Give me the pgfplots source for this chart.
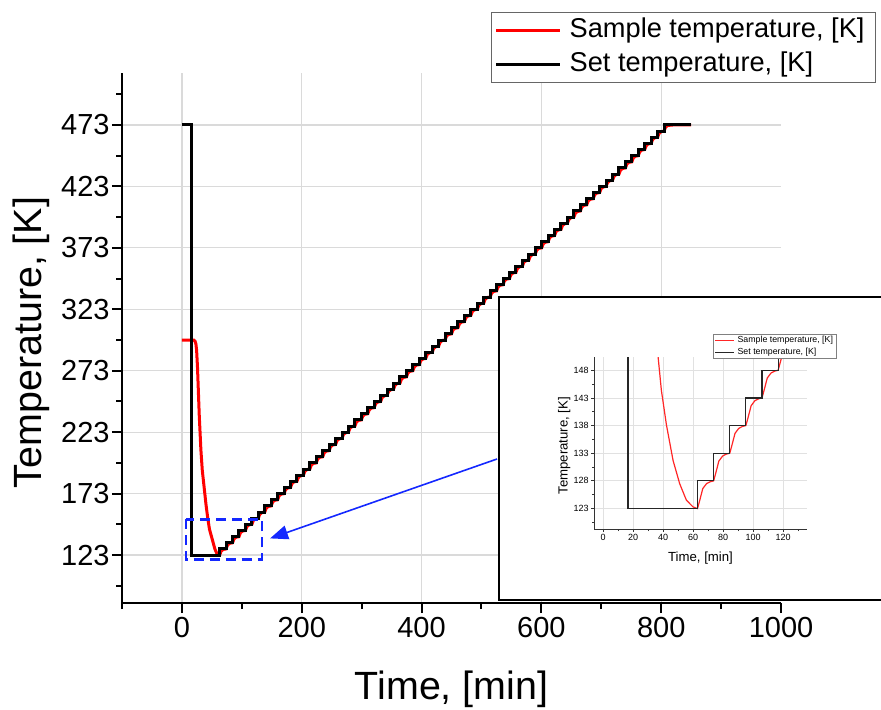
\documentclass[border=0pt]{standalone}
\usepackage{fontspec}
\setmainfont{Liberation Sans}
\usepackage{pgfplots}
\usepackage{pgfplotstable}
\pgfplotsset{compat=1.18}
\usetikzlibrary{arrows.meta}
\definecolor{GridGray}{RGB}{218,218,218}
\definecolor{ArrowBlue}{RGB}{20,40,255}
\definecolor{SampleRed}{RGB}{255,0,0}

% set temperature: each value holds until the next time (const plot)
\pgfplotstableread{
t T
0 473
16.7 123
63 128
73.75 133
84.5 138
95.25 143
106 148
116.75 153
127.5 158
138.25 163
149 168
159.75 173
170.5 178
181.25 183
192 188
202.75 193
213.5 198
224.25 203
235 208
245.75 213
256.5 218
267.25 223
278 228
288.75 233
299.5 238
310.25 243
321 248
331.75 253
342.5 258
353.25 263
364 268
374.75 273
385.5 278
396.25 283
407 288
417.75 293
428.5 298
439.25 303
450 308
460.75 313
471.5 318
482.25 323
493 328
503.75 333
514.5 338
525.25 343
536 348
546.75 353
557.5 358
568.25 363
579 368
589.75 373
600.5 378
611.25 383
622 388
632.75 393
643.5 398
654.25 403
665 408
675.75 413
686.5 418
697.25 423
708 428
718.75 433
729.5 438
740.25 443
751 448
761.75 453
772.5 458
783.25 463
794 468
804.75 473
850 473
}\settemp

% sample temperature
\pgfplotstableread{
t T
0 298
20 298
22 297
23.3 295
24.5 290
26 276
29 236
31.7 208.5
34 192
37 178.6
40 165
42.8 154.2
46 144
51 135.2
55 128
59.5 123
63 123
65.5 126.2
69 127.6
73.75 128
76.25 131.2
79.75 132.6
84.5 133
87 136.2
90.5 137.6
95.25 138
97.75 141.2
101.25 142.6
106 143
108.5 146.2
112 147.6
116.75 148
119.25 151.2
122.75 152.6
127.5 153
130 156.2
133.5 157.6
138.25 158
140.75 161.2
144.25 162.6
149 163
151.5 166.2
155 167.6
159.75 168
162.25 171.2
165.75 172.6
170.5 173
173 176.2
176.5 177.6
181.25 178
183.75 181.2
187.25 182.6
192 183
194.5 186.2
198 187.6
202.75 188
205.25 191.2
208.75 192.6
213.5 193
216 196.2
219.5 197.6
224.25 198
226.75 201.2
230.25 202.6
235 203
237.5 206.2
241 207.6
245.75 208
248.25 211.2
251.75 212.6
256.5 213
259 216.2
262.5 217.6
267.25 218
269.75 221.2
273.25 222.6
278 223
280.5 226.2
284 227.6
288.75 228
291.25 231.2
294.75 232.6
299.5 233
302 236.2
305.5 237.6
310.25 238
312.75 241.2
316.25 242.6
321 243
323.5 246.2
327 247.6
331.75 248
334.25 251.2
337.75 252.6
342.5 253
345 256.2
348.5 257.6
353.25 258
355.75 261.2
359.25 262.6
364 263
366.5 266.2
370 267.6
374.75 268
377.25 271.2
380.75 272.6
385.5 273
388 276.2
391.5 277.6
396.25 278
398.75 281.2
402.25 282.6
407 283
409.5 286.2
413 287.6
417.75 288
420.25 291.2
423.75 292.6
428.5 293
431 296.2
434.5 297.6
439.25 298
441.75 301.2
445.25 302.6
450 303
452.5 306.2
456 307.6
460.75 308
463.25 311.2
466.75 312.6
471.5 313
474 316.2
477.5 317.6
482.25 318
484.75 321.2
488.25 322.6
493 323
495.5 326.2
499 327.6
503.75 328
506.25 331.2
509.75 332.6
514.5 333
517 336.2
520.5 337.6
525.25 338
527.75 341.2
531.25 342.6
536 343
538.5 346.2
542 347.6
546.75 348
549.25 351.2
552.75 352.6
557.5 353
560 356.2
563.5 357.6
568.25 358
570.75 361.2
574.25 362.6
579 363
581.5 366.2
585 367.6
589.75 368
592.25 371.2
595.75 372.6
600.5 373
603 376.2
606.5 377.6
611.25 378
613.75 381.2
617.25 382.6
622 383
624.5 386.2
628 387.6
632.75 388
635.25 391.2
638.75 392.6
643.5 393
646 396.2
649.5 397.6
654.25 398
656.75 401.2
660.25 402.6
665 403
667.5 406.2
671 407.6
675.75 408
678.25 411.2
681.75 412.6
686.5 413
689 416.2
692.5 417.6
697.25 418
699.75 421.2
703.25 422.6
708 423
710.5 426.2
714 427.6
718.75 428
721.25 431.2
724.75 432.6
729.5 433
732 436.2
735.5 437.6
740.25 438
742.75 441.2
746.25 442.6
751 443
753.5 446.2
757 447.6
761.75 448
764.25 451.2
767.75 452.6
772.5 453
775 456.2
778.5 457.6
783.25 458
785.75 461.2
789.25 462.6
794 463
796.5 466.2
800 467.6
804.75 468
807.25 471.2
810.75 472.6
820 473
850 473
}\samplemain

% sample temperature
\pgfplotstableread{
t T
35.3 155
36.7 150.5
38.9 144.4
42.3 138.1
46.7 131.7
51.1 127.5
55.6 124.5
60 123.3
63 123
64.5 124.5
66.5 126.6
69 127.5
71.5 127.85
73.75 128
75.25 129.5
77.25 131.6
79.75 132.5
82.25 132.85
84.5 133
86 134.5
88 136.6
90.5 137.5
93 137.85
95.25 138
96.75 139.5
98.75 141.6
101.25 142.5
103.75 142.85
106 143
107.5 144.5
109.5 146.6
112 147.5
114.5 147.85
116.75 148
118.25 149.5
120.25 151.6
122.75 152.5
125.25 152.85
127.5 153
}\sampleinset

\begin{document}
\begin{tikzpicture}
\begin{axis}[
  at={(61pt,-301.5pt)}, anchor=south west,
  scale only axis, width=329.5pt, height=265pt,
  xmin=-100, xmax=1000, ymin=84, ymax=515.3,
  axis lines=left, axis line style={-, line width=1.3pt},
  xtick={0,200,...,800}, extra x ticks={1000}, extra x tick style={grid=none},
  minor xtick={-100,100,...,900},
  ytick={123,173,...,473}, minor ytick={98,148,...,498},
  tick align=outside, major tick length=5pt, minor tick length=3pt,
  tick style={black, line width=1pt},
  grid=major, major grid style={GridGray, line width=0.6pt},
  /pgf/number format/assume math mode=true,
  /pgf/number format/1000 sep={},
  ticklabel style={font=\fontsize{14.5}{17}\selectfont},
  yticklabel style={inner sep=1pt},
  xticklabel style={inner sep=2pt},
  xlabel={Time, [min]}, ylabel={Temperature, [K]},
  label style={font=\fontsize{19.7}{23}\selectfont},
  xlabel style={at={(axis description cs:0.5,-0.183)}, anchor=base},
  ylabel style={at={(axis description cs:-0.1222,0.4915)}, anchor=base},
  legend style={at={(1.1442,1.1151)}, anchor=north east,
    draw=black!60, line width=0.5pt, fill=white,
    font=\fontsize{13.6}{16}\selectfont,
    inner xsep=1.5pt, inner ysep=2.5pt, row sep=4pt,
    nodes={inner xsep=4pt, inner ysep=0pt, text height=10pt, text depth=3pt}},
  legend cell align=left,
  legend image code/.code={\draw[#1] (0pt,0pt) -- (32pt,0pt);},
]
\addplot[SampleRed, line width=1.5pt] table[x=t, y=T] {\samplemain};
\addlegendentry{Sample temperature, [K]}
\addplot[black, line width=1.5pt, const plot] table[x=t, y=T] {\settemp};
\addlegendentry{Set temperature, [K]}
\end{axis}

% inset frame
\fill[white] (249.5pt,-148.5pt) rectangle (445pt,-300pt);
\draw[line width=1pt] (445pt,-148.5pt) -- (249.5pt,-148.5pt) -- (249.5pt,-300pt) -- (445pt,-300pt);

% zoom marker and arrow
\draw[ArrowBlue, line width=1.2pt, dash pattern=on 5pt off 3pt]
  (92.85pt,-259.65pt) rectangle (130.85pt,-279.65pt);
\draw[ArrowBlue, line width=0.8pt, -{Triangle[length=9pt,width=7pt]}]
  (248.5pt,-229.5pt) -- (135pt,-269.2pt);

\begin{axis}[
  at={(297pt,-264.5pt)}, anchor=south west,
  scale only axis, width=106.5pt, height=86pt,
  xmin=-6, xmax=136, ymin=119.3, ymax=150.4,
  axis lines=left, axis line style={-, line width=0.5pt, black!80},
  xtick={0,20,...,120}, minor xtick={10,30,...,130},
  ytick={123,128,...,148}, minor ytick={120.5,125.5,...,145.5},
  tick align=outside, major tick length=1.5pt, minor tick length=1pt,
  tick style={black!80, line width=0.4pt},
  grid=major, major grid style={GridGray!80, line width=0.4pt},
  /pgf/number format/assume math mode=true,
  ticklabel style={font=\fontsize{4.5}{5.5}\selectfont, inner sep=1pt},
  xlabel={Time, [min]}, ylabel={Temperature, [K]},
  label style={font=\fontsize{6.6}{8}\selectfont},
  xlabel style={at={(axis description cs:0.5,-0.190)}, anchor=base},
  ylabel style={at={(axis description cs:-0.124,0.4837)}, anchor=base},
  legend style={at={(1.1408,1.1337)}, anchor=north east,
    draw=black!50, line width=0.4pt, fill=white,
    font=\fontsize{4.4}{5}\selectfont,
    inner xsep=0.5pt, inner ysep=0.9pt, row sep=1.5pt,
    nodes={inner xsep=1.3pt, inner ysep=0pt, text height=3.3pt, text depth=1pt}},
  legend cell align=left,
  legend image code/.code={\draw[#1] (0pt,0pt) -- (9.5pt,0pt);},
]
\addplot[SampleRed!85, line width=0.6pt] table[x=t, y=T] {\sampleinset};
\addlegendentry{Sample temperature, [K]}
\addplot[black!85, line width=0.6pt, const plot] table[x=t, y=T] {\settemp};
\addlegendentry{Set temperature, [K]}
\end{axis}

\pgfresetboundingbox
\useasboundingbox (0pt,0pt) rectangle (440.5pt,-355pt);
\end{tikzpicture}
\end{document}
